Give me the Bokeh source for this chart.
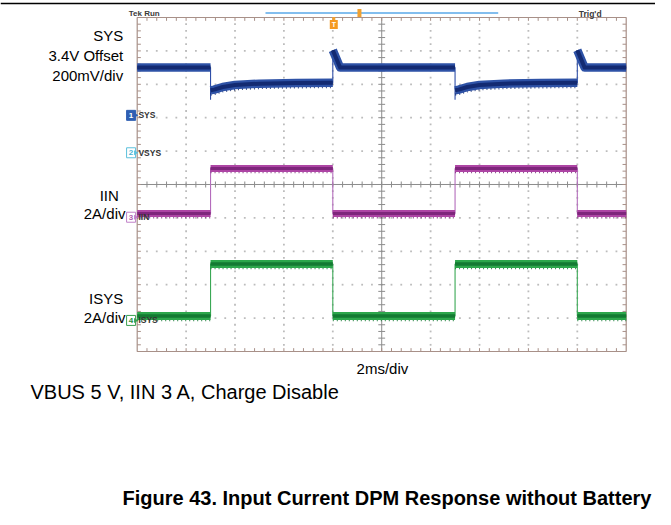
import numpy as np
from bokeh.plotting import figure
from bokeh.models import Range1d
from bokeh.core.properties import value
from bokeh.embed import file_html
from bokeh.resources import INLINE

# ---------------- data (time in ms, 2 ms/div; level in screen divisions) ----------------
sys_t = [0.0, 3.0, 3.0, 3.0, 3.15, 3.5, 4.0, 5.0, 6.5, 8.0, 8.0, 8.0, 8.3, 13.0,
         13.0, 13.0, 13.15, 13.5, 14.0, 15.0, 16.5, 18.0, 18.0, 18.0, 18.3, 20.0]
sys_v = [3.50, 3.50, 2.54, 2.82, 2.84, 2.92, 2.98, 3.02, 3.04, 3.05, 4.02, 4.02, 3.50, 3.50,
         2.54, 2.82, 2.84, 2.92, 2.98, 3.02, 3.04, 3.05, 4.02, 4.02, 3.50, 3.50]

iin_t = [0.0, 3.0, 3.0, 8.0, 8.0, 13.0, 13.0, 18.0, 18.0, 20.0]
iin_v = [-0.87, -0.87, 0.48, 0.48, -0.87, -0.87, 0.48, 0.48, -0.87, -0.87]

isys_t = [0.0, 3.0, 3.0, 8.0, 8.0, 13.0, 13.0, 18.0, 18.0, 20.0]
isys_v = [-3.94, -3.94, -2.38, -2.38, -3.94, -3.94, -2.38, -2.38, -3.94, -3.94]

left_labels = ["SYS", "3.4V Offset", "200mV/div", "IIN", "2A/div", "ISYS", "2A/div"]
channel_names = ["SYS", "VSYS", "IIN", "ISYS"]
channel_nums = ["1", "2", "3", "4"]
channel_ground = [2.07, 0.95, -0.98, -4.07]

FONT = value("Liberation Sans")

X0, X1 = -5.591, 21.198
Y0, Y1 = -9.731, 5.509
p = figure(width=655, height=509, output_backend="svg", toolbar_location=None,
           x_axis_type=None, y_axis_type=None,
           x_range=Range1d(X0, X1), y_range=Range1d(Y0, Y1),
           min_border=0, outline_line_color=None, background_fill_color="white")
p.grid.visible = False

# ---------------- graticule ----------------
XMAX, YMAX = 20.0, 5.0
grid_x = [x for x in np.arange(2.0, 20.0, 2.0) if abs(x - 10.0) > 1e-6]
grid_y = [y for y in np.arange(-4.0, 5.0, 1.0) if abs(y) > 1e-6]
minor_x = np.arange(0.4, 20.0, 0.4)
minor_y = np.arange(-4.8, 5.0, 0.2)

dx, dy = [], []
for gy in grid_y:
    dx += list(minor_x); dy += [gy] * len(minor_x)
for gx in grid_x:
    dx += [gx] * len(minor_y); dy += list(minor_y)
p.scatter(dx, dy, marker="square", size=1.8, fill_color="#bcbcbc", line_color=None)

# center cross
p.line([0, XMAX], [0, 0], line_color="#8c8c8c", line_width=1)
p.line([10, 10], [-YMAX, YMAX], line_color="#8c8c8c", line_width=1)
p.segment(x0=minor_x, y0=-0.09, x1=minor_x, y1=0.09, line_color="#8c8c8c", line_width=1)
p.segment(x0=9.86, y0=minor_y, x1=10.14, y1=minor_y, line_color="#8c8c8c", line_width=1)

# border with inward ticks
BORDER = "#a89088"
p.segment(x0=minor_x, y0=YMAX, x1=minor_x, y1=YMAX - 0.1, line_color=BORDER, line_width=1)
p.segment(x0=minor_x, y0=-YMAX, x1=minor_x, y1=-YMAX + 0.1, line_color=BORDER, line_width=1)
p.segment(x0=0, y0=minor_y, x1=0.15, y1=minor_y, line_color=BORDER, line_width=1)
p.segment(x0=XMAX, y0=minor_y, x1=XMAX - 0.15, y1=minor_y, line_color=BORDER, line_width=1)
p.quad(left=0, right=XMAX, bottom=-YMAX, top=YMAX, fill_color=None,
       line_color=BORDER, line_width=1.2)


# ---------------- waveforms ----------------
def band_runs(t, v):
    runs, cur_t, cur_v = [], [t[0]], [v[0]]
    for i in range(1, len(t)):
        if t[i] > t[i - 1]:
            cur_t.append(t[i]); cur_v.append(v[i])
        else:
            if len(cur_t) > 1:
                runs.append((cur_t, cur_v))
            cur_t, cur_v = [t[i]], [v[i]]
    if len(cur_t) > 1:
        runs.append((cur_t, cur_v))
    return [r[0] for r in runs], [r[1] for r in runs]


def draw_trace(t, v, edge, outer, core, w_outer, w_core, comb_below=None, comb_max=None):
    p.line(t, v, line_color=edge, line_width=1.1)
    xs, ys = band_runs(t, v)
    if comb_below is not None:
        cx, cy = [], []
        for rx, ry in zip(xs, ys):
            if comb_max is None or max(ry) <= comb_max:
                cx.append(rx); cy.append([yy - comb_below for yy in ry])
        p.multi_line(cx, cy, line_color=core, line_width=3, line_dash="1 3",
                     line_cap="butt", alpha=0.85)
    p.multi_line(xs, ys, line_color=outer, line_width=w_outer, line_cap="butt", line_join="round")
    p.multi_line(xs, ys, line_color=core, line_width=w_core, line_cap="butt", line_join="round")


draw_trace(sys_t, sys_v, "#2f4fa8", "#2e52a6", "#132a72", 8.5, 4, comb_below=0.12, comb_max=3.2)
draw_trace(iin_t, iin_v, "#b46cbc", "#ad45a4", "#7e267c", 7, 3, comb_below=0.10)
draw_trace(isys_t, isys_v, "#3aa855", "#2ca64b", "#137a32", 8, 3.5, comb_below=0.11)

# ---------------- channel markers ----------------
mk_x = -0.25
box_fill = ["#2f5fb3", "white", "white", "white"]
box_line = ["#2f5fb3", "#5cc0dc", "#c080c8", "#3aa050"]
num_col = ["white", "#4ab4d4", "#b060b0", "#2a9040"]
p.rect(x=[mk_x] * 4, y=channel_ground, width=9, height=10, width_units="screen",
       height_units="screen", fill_color=box_fill, line_color=box_line, line_width=1)
p.scatter(x=[-0.07] * 4, y=channel_ground, marker="triangle", angle=-np.pi / 2, size=5,
          fill_color=box_line, line_color=None)
p.text(x=[mk_x] * 4, y=channel_ground, text=channel_nums, text_font=FONT,
       text_font_size="8px", text_font_style="bold", text_color=num_col,
       text_align="center", text_baseline="middle")
p.text(x=[0.05] * 4, y=channel_ground, text=channel_names, text_font=FONT,
       text_font_size="8.5px", text_font_style="bold", text_color="#333333",
       text_align="left", text_baseline="middle")

# ---------------- scope header ----------------
p.line([5.247, 14.765], [5.135, 5.135], line_color="#5aa8e8", line_width=1.3)
p.rect(x=[9.09], y=[5.135], width=4, height=8, width_units="screen", height_units="screen",
       fill_color="#f0a030", line_color=None)
p.rect(x=[8.04], y=[4.97], width=3, height=3, width_units="screen", height_units="screen",
       fill_color="#f0a030", line_color=None)
p.rect(x=[8.04], y=[4.79], width=8, height=9, width_units="screen", height_units="screen",
       fill_color="#f59a23", line_color=None)
p.text(x=[8.04], y=[4.79], text=["T"], text_font=FONT, text_font_size="7px",
       text_font_style="bold", text_color="white", text_align="center", text_baseline="middle")
p.text(x=[-0.344], y=[5.111], text=["Tek Run"], text_font=FONT, text_font_size="8px",
       text_font_style="bold", text_color="#3a3a3a", text_align="left", text_baseline="middle")
p.text(x=[18.06], y=[5.111], text=["Trig'd"], text_font=FONT, text_font_size="8.5px",
       text_font_style="bold", text_color="#3a3a3a", text_align="left", text_baseline="middle")

# top rule of the page
p.line([X0, X1], [5.419, 5.419], line_color="black", line_width=1.6)

# ---------------- annotations ----------------
lab_x = [-0.573, -0.573, -0.573, -0.75, -0.48, -0.573, -0.48]
lab_y = [4.461, 3.862, 3.263, -0.329, -0.868, -3.42, -3.97]
p.text(x=lab_x, y=lab_y, text=left_labels, text_font=FONT, text_font_size="15px",
       text_color="black", text_align="right", text_baseline="middle")

p.text(x=[10.03], y=[-5.518], text=["2ms/div"], text_font=FONT, text_font_size="15px",
       text_color="black", text_align="center", text_baseline="middle")
p.text(x=[-4.364], y=[-6.198], text=["VBUS 5 V, IIN 3 A, Charge Disable"], text_font=FONT,
       text_font_size="20px", text_color="black", text_align="left", text_baseline="middle")
p.text(x=[-0.601], y=[-9.40], text=["Figure 43. Input Current DPM Response without Battery"],
       text_font=FONT, text_font_size="20px", text_font_style="bold", text_color="black",
       text_align="left", text_baseline="middle")

open("out.html", "w").write(file_html(p, INLINE))
